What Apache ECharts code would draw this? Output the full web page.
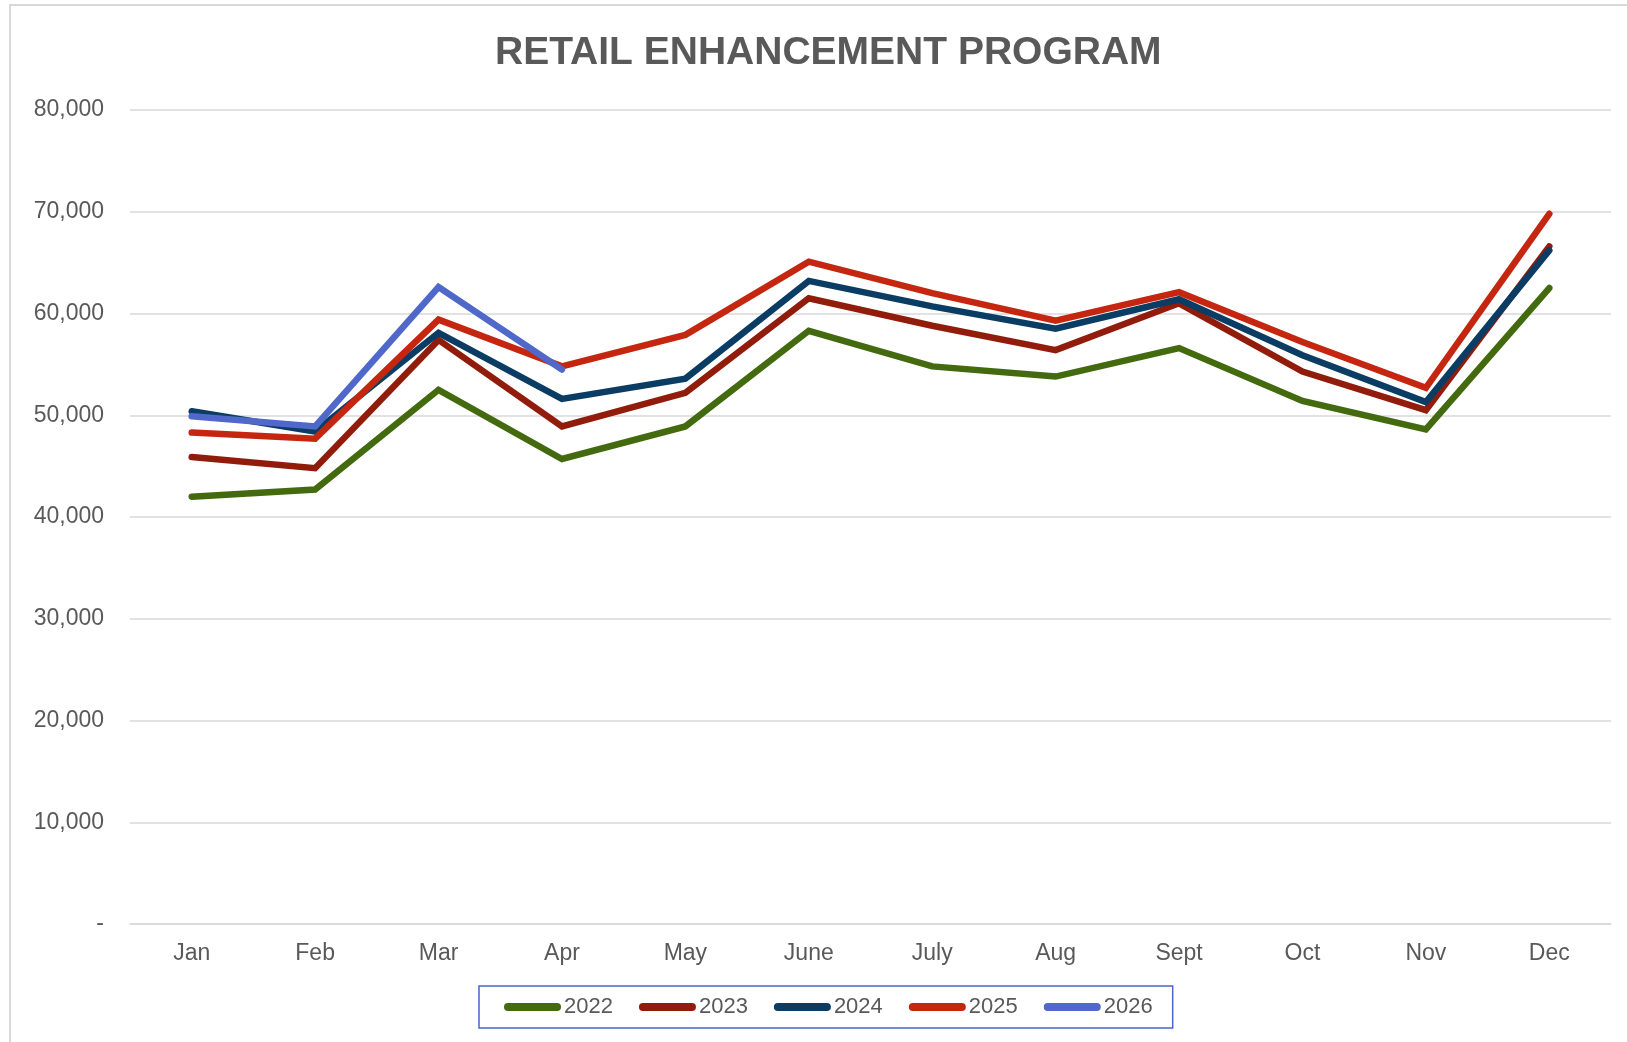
<!DOCTYPE html>
<html>
<head>
<meta charset="utf-8">
<style>
  html, body { margin: 0; padding: 0; background: #fff; }
  #chart { width: 1627px; height: 1042px; }
</style>
<script src="https://cdn.jsdelivr.net/npm/echarts@6/dist/echarts.min.js"></script>
</head>
<body>
<div id="chart"></div>
<script>
const months = ['Jan', 'Feb', 'Mar', 'Apr', 'May', 'June', 'July', 'Aug', 'Sept', 'Oct', 'Nov', 'Dec']
const sales2022 = [42000, 42700, 52500, 45700, 48900, 58300, 54800, 53800, 56600, 51400, 48600, 62500]
const sales2023 = [45900, 44800, 57400, 48900, 52200, 61500, 58800, 56400, 61000, 54300, 50500, 66600]
const sales2024 = [50400, 48400, 58100, 51600, 53600, 63200, 60700, 58500, 61400, 55900, 51300, 66200]
const sales2025 = [48300, 47700, 59400, 54800, 57900, 65100, 62000, 59300, 62100, 57200, 52700, 69800]
const sales2026 = [49900, 48900, 62600, 54500, null, null, null, null, null, null, null, null]
const yearNames = ['2022', '2023', '2024', '2025', '2026']

const FONT = 'Liberation Sans'
const TEXT_COLOR = '#595959'
const colors = ['#436A0E', '#921C0B', '#0A3C64', '#C42610', '#5068C9']
const seriesData = [sales2022, sales2023, sales2024, sales2025, sales2026]

const chart = echarts.init(document.getElementById('chart'))

const option = {
  animation: false,
  color: colors,
  textStyle: { fontFamily: FONT },
  title: {
    text: 'RETAIL ENHANCEMENT PROGRAM',
    left: 495,
    top: 34,
    padding: 0,
    textStyle: {
      fontFamily: FONT,
      fontSize: 39,
      fontWeight: 'bold',
      color: TEXT_COLOR
    }
  },
  graphic: [{
    // outer chart border
    type: 'rect',
    z: -10,
    shape: { x: 10, y: 5, width: 1700, height: 1100 },
    style: { fill: 'none', stroke: '#d9d9d9', lineWidth: 2 }
  }],
  legend: {
    left: 479,
    top: 986,
    padding: [10, 20, 10, 25],
    borderColor: '#4A66C8',
    borderWidth: 1.5,
    itemWidth: 57,
    itemHeight: 8,
    itemGap: 26,
    icon: 'path://M4,0 H53 A4,4 0 0 1 53,8 H4 A4,4 0 0 1 4,0 Z',
    textStyle: { fontFamily: FONT, fontSize: 22, color: TEXT_COLOR, padding: [0, 0, 0, -2] },
    data: yearNames
  },
  grid: {
    left: 130,
    right: 16,
    top: 110,
    bottom: 118,
    containLabel: false
  },
  xAxis: {
    type: 'category',
    boundaryGap: true,
    data: months,
    axisLine: { show: true, lineStyle: { color: '#d9d9d9', width: 1.5 } },
    axisTick: { show: false },
    axisLabel: {
      margin: 18,
      fontFamily: FONT,
      fontSize: 23,
      color: TEXT_COLOR,
      interval: 0
    }
  },
  yAxis: {
    type: 'value',
    min: 0,
    max: 80000,
    interval: 10000,
    axisLine: { show: false },
    axisTick: { show: false },
    splitLine: { lineStyle: { color: '#d9d9d9', width: 1.5 } },
    axisLabel: {
      margin: 26,
      fontFamily: FONT,
      fontSize: 23,
      color: TEXT_COLOR,
      formatter: v => v === 0 ? '-' : v.toLocaleString('en-US')
    }
  },
  series: yearNames.map((name, i) => ({
    name,
    type: 'line',
    data: seriesData[i],
    symbol: 'none',
    connectNulls: false,
    lineStyle: { width: 6.5, cap: 'round', join: 'miter' }
  }))
}

chart.setOption(option)
</script>
</body>
</html>
